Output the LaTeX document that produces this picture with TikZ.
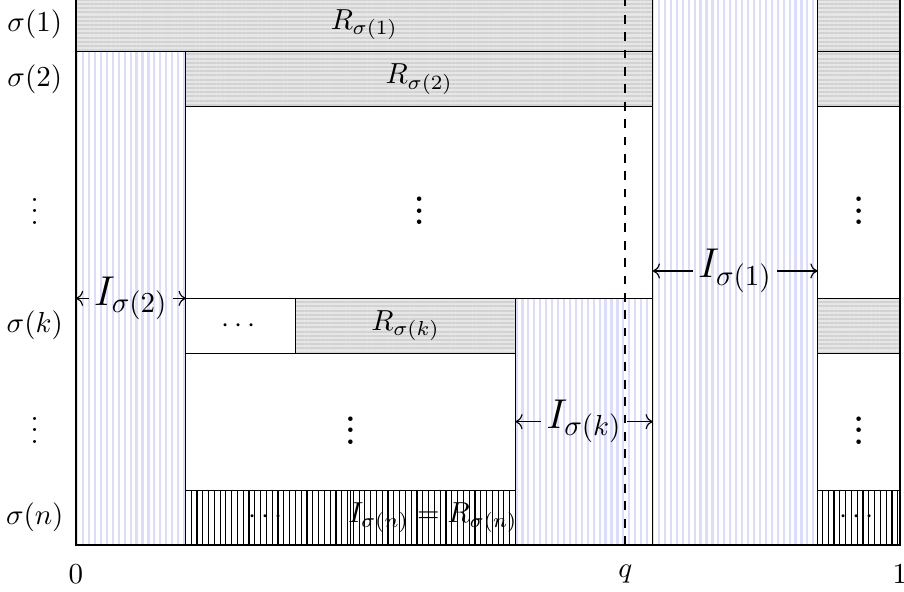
\documentclass[tikz,border=0pt]{standalone}
\usepackage{amsmath}
\usetikzlibrary{arrows.meta,patterns.meta}
\definecolor{rowbg}{HTML}{E6E6E6}
\definecolor{rowline}{HTML}{D2D2D2}
\definecolor{colline}{HTML}{DCDCFF}
\tikzset{
  rowbox/.style={draw=black,line width=.4pt,preaction={fill=rowbg},
    pattern={Lines[angle=0,distance=1.45pt,line width=.7pt]},pattern color=rowline},
  colbox/.style={draw=black,line width=.4pt,preaction={fill=white},
    pattern={Lines[angle=90,distance=2.05pt,line width=.75pt]},pattern color=colline},
  lastbox/.style={draw=black,line width=.4pt,preaction={fill=white},
    pattern={Lines[angle=90,distance=2pt,line width=.4pt]},pattern color=black},
  blank/.style={draw=black,line width=.4pt,fill=white},
  rowlabel/.style={anchor=center},
  vdotsbold/.style={font=\bfseries},
  widthlabel/.style={font=\Large,inner sep=1.5pt},
  span/.style={draw=black,line width=.4pt,->},
  qline/.style={draw=black,line width=.7pt,dashed}
}
\begin{document}
\begin{tikzpicture}[x=10cm,y=.665cm]
  \useasboundingbox (-.0922,-.858) rectangle (1.0049,9.945);
  % Rows R_sigma(i), white gaps and the last row.
  \draw[rowbox] (0,9) rectangle (1,10);
  \draw[rowbox] (.1333,8) rectangle (1,9);
  \draw[blank] (.1333,4.5) rectangle (1,8);
  \draw[blank] (.1333,3.5) rectangle (.2667,4.5);
  \draw[rowbox] (.2667,3.5) rectangle (1,4.5);
  \draw[blank] (.1333,1) rectangle (1,3.5);
  \draw[lastbox] (.1333,0) rectangle (.3333,1);
  \draw[lastbox] (.3333,0) rectangle (1,1);

  % Intervals I_sigma(i).
  \draw[colbox] (0,0) rectangle (.1333,9);
  \draw[colbox] (.5333,0) rectangle (.7,4.5);
  \draw[colbox] (.7,0) rectangle (.9,10);

  \coordinate (qbot) at (.6667,0);
  \coordinate (qtop) at (.6667,10);
  \draw[qline] (qbot) -- (qtop);

  % Row labels on the left.
  \node[rowlabel] (s1) at (-.05,9.5) {$\sigma(1)$};
  \node[rowlabel] (s2) at (-.05,8.5) {$\sigma(2)$};
  \node[rowlabel] (sdu) at (-.05,6.25) {$\vdots$};
  \node[rowlabel] (sk) at (-.05,4) {$\sigma(k)$};
  \node[rowlabel] (sdl) at (-.05,2.25) {$\vdots$};
  \node[rowlabel] (sn) at (-.05,.5) {$\sigma(n)$};

  % Texts inside the boxes.
  \node (r1) at (.35,9.5) {$R_{\sigma(1)}$};
  \node (r2) at (.4167,8.5) {$R_{\sigma(2)}$};
  \node[vdotsbold] (mu) at (.4167,6.25) {$\vdots$};
  \node[vdotsbold] (ru) at (.95,6.25) {$\vdots$};
  \node (kdots) at (.2,4) {$\cdots$};
  \node (rk) at (.4,4) {$R_{\sigma(k)}$};
  \node[vdotsbold] (ml) at (.3333,2.25) {$\vdots$};
  \node[vdotsbold] (rl) at (.95,2.25) {$\vdots$};
  \node (ndots) at (.2333,.5) {$\cdots$};
  \node (rn) at (.4333,.5) {$I_{\sigma(n)}=R_{\sigma(n)}$};
  \node (rndots) at (.95,.5) {$\cdots$};

  % Widths of the intervals.
  \coordinate (i2l) at (0,4.5);
  \coordinate (i2r) at (.1333,4.5);
  \node[widthlabel] (i2) at (.0667,4.5) {$I_{\sigma(2)}$};
  \draw[span] (i2) -- (i2l);
  \draw[span] (i2) -- (i2r);
  \coordinate (i1l) at (.7,5);
  \coordinate (i1r) at (.9,5);
  \node[widthlabel] (i1) at (.8,5) {$I_{\sigma(1)}$};
  \draw[span] (i1) -- (i1l);
  \draw[span] (i1) -- (i1r);
  \coordinate (ikl) at (.5333,2.25);
  \coordinate (ikr) at (.7,2.25);
  \node[widthlabel] (ik) at (.6167,2.25) {$I_{\sigma(k)}$};
  \draw[span] (ik) -- (ikl);
  \draw[span] (ik) -- (ikr);

  % Axis marks.
  \node[anchor=north] (zero) at (0,-.18) {$0$};
  \node[anchor=north] (q) at (.6667,-.18) {$q$};
  \node[anchor=north] (one) at (1,-.18) {$1$};
\end{tikzpicture}
\end{document}
